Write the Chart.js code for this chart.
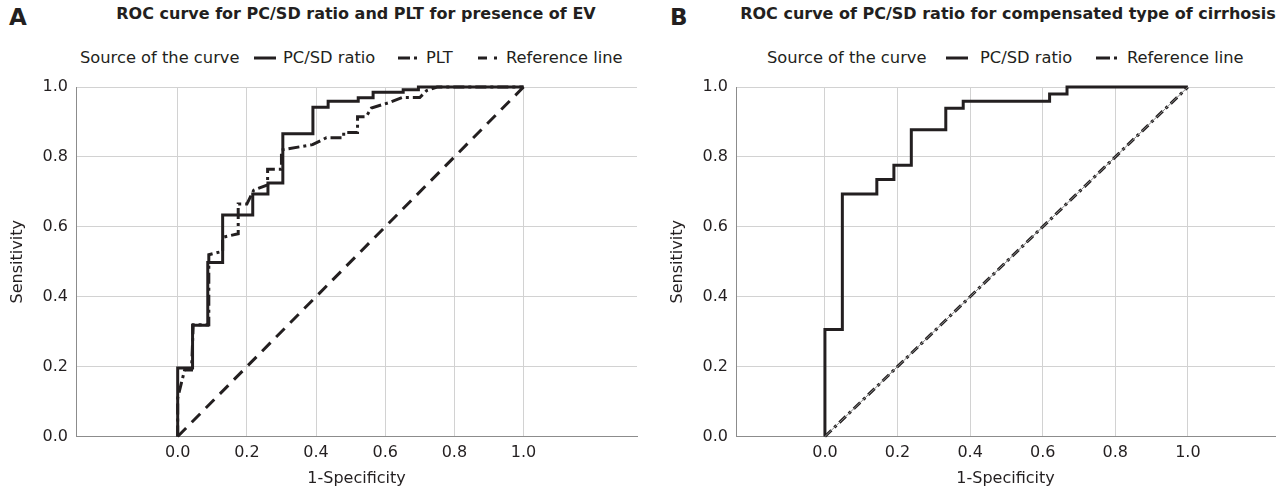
<!DOCTYPE html>
<html>
<head>
<meta charset="utf-8">
<script src="https://cdn.jsdelivr.net/npm/chart.js@4.4.1/dist/chart.umd.min.js"></script>
<style>
  body { margin: 0; width: 1276px; height: 492px; overflow: hidden; background: #fff; position: relative; color: #231f20; font-family: "DejaVu Sans", sans-serif; }
  canvas { position: absolute; top: 0; }
  .letter { position: absolute; top: 4px; font: bold 23px "DejaVu Sans"; }
  .title { position: absolute; top: 4px; font: bold 16px "DejaVu Sans"; white-space: nowrap; text-align: center; }
  .legend span, .legend svg { position: absolute; top: 48px; font: 16.3px "DejaVu Sans"; white-space: nowrap; }
  .legend svg { top: 53px; }
</style>
</head>
<body>
<div class="letter" style="left:9px">A</div>
<div class="letter" style="left:670px">B</div>
<div class="title" id="titleA" style="left:56px; width:600px"></div>
<div class="title" id="titleB" style="left:708px; width:600px"></div>
<div class="legend" id="legendA"></div>
<div class="legend" id="legendB"></div>
<canvas id="chartA" width="640" height="492" style="left:0; width:640px; height:492px"></canvas>
<canvas id="chartB" width="636" height="492" style="left:640px; width:636px; height:492px"></canvas>
<script>
// panel titles
var titleA = 'ROC curve for PC/SD ratio and PLT for presence of EV';
var titleB = 'ROC curve of PC/SD ratio for compensated type of cirrhosis';
var legendHead = 'Source of the curve';

// tick values on both axes
var tickValues = [0, 0.2, 0.4, 0.6, 0.8, 1.0];

// reference diagonal
var refX = [0, 1];
var refY = [0, 1];

// panel A - PC/SD ratio (1-specificity, sensitivity)
var evRatioX = [0, 0, 0.043, 0.043, 0.087, 0.087, 0.130, 0.130, 0.217, 0.217, 0.261, 0.261, 0.304, 0.304, 0.391, 0.391, 0.435, 0.435, 0.522, 0.522, 0.565, 0.565, 0.652, 0.652, 0.696, 0.696, 1.0];
var evRatioY = [0, 0.196, 0.196, 0.318, 0.318, 0.498, 0.498, 0.634, 0.634, 0.694, 0.694, 0.725, 0.725, 0.866, 0.866, 0.942, 0.942, 0.959, 0.959, 0.969, 0.969, 0.985, 0.985, 0.992, 0.992, 1.0, 1.0];

// panel A - PLT
var evPltX = [0, 0, 0.02, 0.04, 0.045, 0.09, 0.09, 0.13, 0.13, 0.175, 0.175, 0.2, 0.22, 0.26, 0.26, 0.3, 0.3, 0.39, 0.43, 0.48, 0.48, 0.52, 0.52, 0.545, 0.56, 0.61, 0.65, 0.7, 0.72, 0.75, 1.0];
var evPltY = [0, 0.11, 0.19, 0.19, 0.32, 0.32, 0.52, 0.53, 0.57, 0.58, 0.665, 0.665, 0.705, 0.72, 0.765, 0.765, 0.82, 0.835, 0.855, 0.855, 0.87, 0.87, 0.915, 0.915, 0.94, 0.955, 0.97, 0.97, 0.99, 1.0, 1.0];

// panel B - PC/SD ratio
var ccRatioX = [0, 0, 0.048, 0.048, 0.143, 0.143, 0.190, 0.190, 0.238, 0.238, 0.333, 0.333, 0.381, 0.381, 0.619, 0.619, 0.667, 0.667, 1.0];
var ccRatioY = [0, 0.306, 0.306, 0.694, 0.694, 0.735, 0.735, 0.776, 0.776, 0.878, 0.878, 0.939, 0.939, 0.959, 0.959, 0.980, 0.980, 1.0, 1.0];

var ink = '#231f20';

function pts(xs, ys) {
    return xs.map(function (x, i) { return { x: x, y: ys[i] }; });
}

function lineSet(label, xs, ys, dash, width, color) {
    return {
        label: label,
        data: pts(xs, ys),
        showLine: true,
        borderColor: color || ink,
        borderWidth: width,
        borderDash: dash,
        pointRadius: 0,
        tension: 0,
        clip: 4,
        borderCapStyle: 'butt',
        borderJoinStyle: 'miter'
    };
}

function legendSample(dash, left) {
    var svg = '<svg width="22" height="10" style="left:' + left + 'px"><line x1="0" y1="5" x2="22" y2="5" stroke="' + ink + '" stroke-width="3"';
    if (dash.length) svg += ' stroke-dasharray="' + dash.join(',') + '"';
    return svg + '/></svg>';
}

// legend: header text, then for each item a line sample and its label
function buildLegend(id, headLeft, items) {
    var html = '<span style="left:' + headLeft + 'px">' + legendHead + '</span>';
    items.forEach(function (it) {
        html += legendSample(it.dash, it.at) + '<span style="left:' + it.textAt + 'px">' + it.label + '</span>';
    });
    document.getElementById(id).innerHTML = html;
}

function createRocChart(canvasId, datasets, xMin, xMax, yAxisWidth, yTitlePad, padRight) {
    var ctx = document.getElementById(canvasId).getContext('2d');
    var font = { family: 'DejaVu Sans', size: 16 };
    return new Chart(ctx, {
        type: 'scatter',
        data: { datasets: datasets },
        options: {
            animation: false,
            responsive: false,
            maintainAspectRatio: false,
            layout: { padding: { top: 87, right: padRight, left: 0, bottom: 0 } },
            plugins: { legend: { display: false }, tooltip: { enabled: false } },
            scales: {
                x: {
                    type: 'linear',
                    min: xMin,
                    max: xMax,
                    afterBuildTicks: function (scale) {
                        scale.ticks = tickValues.map(function (v) { return { value: v }; });
                    },
                    afterFit: function (scale) { scale.height = 55.5; },
                    ticks: {
                        color: ink, font: font, padding: 7, maxRotation: 0, autoSkip: false,
                        callback: function (v) { return v.toFixed(1); }
                    },
                    grid: { color: '#d2d2d2', lineWidth: 1, drawTicks: false },
                    border: { color: '#8c8c8c', width: 1 },
                    title: { display: true, text: '1-Specificity', color: ink, font: font, padding: { top: 0, bottom: 4 } }
                },
                y: {
                    type: 'linear',
                    min: 0,
                    max: 1,
                    afterBuildTicks: function (scale) {
                        scale.ticks = tickValues.map(function (v) { return { value: v }; });
                    },
                    afterFit: function (scale) { scale.width = yAxisWidth; },
                    ticks: {
                        color: ink, font: font, padding: 8, autoSkip: false,
                        callback: function (v) { return v.toFixed(1); }
                    },
                    grid: { color: '#d2d2d2', lineWidth: 1, drawTicks: false },
                    border: { color: '#8c8c8c', width: 1 },
                    title: { display: true, text: 'Sensitivity', color: ink, font: font, padding: { top: yTitlePad, bottom: 0 } }
                }
            }
        }
    });
}

document.getElementById('titleA').textContent = titleA;
document.getElementById('titleB').textContent = titleB;

var pltDash = [11, 4, 3, 4];
var refDashA = [12, 8];
var refDashB = [9, 4, 3, 4];

buildLegend('legendA', 80, [
    { label: 'PC/SD ratio', dash: [], at: 254, textAt: 283 },
    { label: 'PLT', dash: [12, 4, 3, 3], at: 398, textAt: 426 },
    { label: 'Reference line', dash: [9, 7, 3, 3], at: 478, textAt: 506 }
]);
buildLegend('legendB', 767, [
    { label: 'PC/SD ratio', dash: [], at: 946, textAt: 980 },
    { label: 'Reference line', dash: [14, 4, 3, 1], at: 1096, textAt: 1127 }
]);

createRocChart('chartA', [
    lineSet('Reference line', refX, refY, refDashA, 3),
    lineSet('PLT', evPltX, evPltY, pltDash, 3),
    lineSet('PC/SD ratio', evRatioX, evRatioY, [], 3)
], -0.294, 1.328, 76, 8.7, 3);

createRocChart('chartB', [
    lineSet('Reference line', refX, refY, [], 1, '#8a8a8a'),
    lineSet('Reference line', refX, refY, refDashB, 3),
    lineSet('PC/SD ratio', ccRatioX, ccRatioY, [], 3)
], -0.245, 1.24, 96, 28.4, 1);
</script>
</body>
</html>
